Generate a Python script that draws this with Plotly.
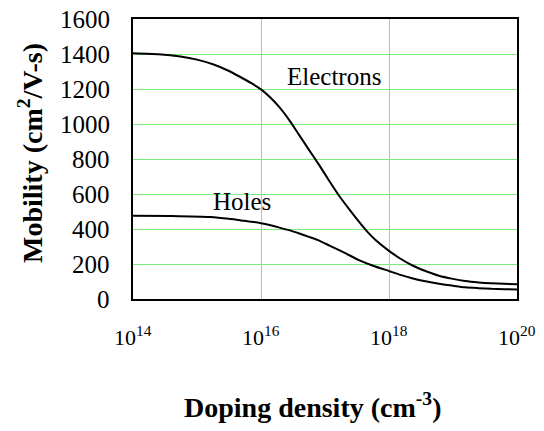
import plotly.graph_objects as go

# log10 of doping density (cm^-3)
elec_logN = [14.0, 14.4, 14.74, 15.0, 15.26, 15.5, 15.67, 15.85, 16.0, 16.15, 16.29, 16.45, 16.6, 16.75, 16.91, 17.07, 17.22, 17.38, 17.53, 17.66, 17.79, 18.0, 18.18, 18.36, 18.57, 18.78, 19.0, 19.19, 19.4, 19.6, 19.8, 20.0]
elec_mu = [1405, 1399, 1386, 1368, 1340, 1303, 1270, 1233, 1198, 1150, 1095, 1018, 935, 852, 765, 673, 590, 512, 442, 385, 337, 275, 230, 193, 160, 133, 115, 103, 95, 90, 87, 84]

hole_logN = [14.0, 14.6, 15.21, 15.5, 15.67, 15.85, 16.0, 16.15, 16.29, 16.45, 16.6, 16.75, 16.91, 17.07, 17.22, 17.38, 17.53, 17.75, 18.0, 18.18, 18.36, 18.57, 18.78, 19.0, 19.19, 19.4, 19.6, 19.8, 20.0]
hole_mu = [476, 474, 468, 458, 450, 442, 433, 421, 408, 392, 374, 355, 334, 305, 279, 250, 222, 190, 160, 138, 119, 101, 87, 76, 67, 62, 58, 56, 54]

x_tick_exps = [14, 16, 18, 20]
x_tickvals = [10.0 ** e for e in x_tick_exps]
x_ticktext = ["10<sup>%d</sup>" % e for e in x_tick_exps]
y_tickvals = [0, 200, 400, 600, 800, 1000, 1200, 1400, 1600]

FONT = "Liberation Serif"
GRID = "rgb(120,235,120)"

L, R, T, B = 133, 27, 19, 132
W, H = 544, 431
PW, PH = W - L - R, H - T - B

fig = go.Figure()
for xs, ys in [(elec_logN, elec_mu), (hole_logN, hole_mu)]:
    fig.add_trace(go.Scatter(
        x=[10.0 ** v for v in xs], y=ys, mode="lines",
        line=dict(color="black", width=2, shape="spline", smoothing=0.6),
        showlegend=False, hoverinfo="skip"))

fig.update_layout(
    width=W, height=H,
    margin=dict(l=L, r=R, t=T, b=B),
    paper_bgcolor="white", plot_bgcolor="white",
    font=dict(family=FONT, color="black", size=25),
)
fig.update_xaxes(type="log", range=[14, 20], tickmode="array", tickvals=x_tickvals,
                 showticklabels=False,
                 showgrid=True, gridcolor=GRID, gridwidth=1,
                 showline=True, linecolor="black", linewidth=2, mirror=True,
                 ticks="", zeroline=False)
fig.update_yaxes(range=[0, 1600], tickmode="array", tickvals=y_tickvals,
                 showticklabels=False,
                 showgrid=True, gridcolor=GRID, gridwidth=1,
                 showline=True, linecolor="black", linewidth=2, mirror=True,
                 ticks="", zeroline=False)

# tick labels, placed on the axes' own scales
for e, txt in zip(x_tick_exps, x_ticktext):
    fig.add_annotation(x=e, y=0, xref="x", yref="paper", text=txt, showarrow=False,
                       xanchor="center", yanchor="middle", yshift=-37,
                       font=dict(size=22, family=FONT, color="black"))
for v in y_tickvals:
    fig.add_annotation(x=0, y=v, xref="paper", yref="y", text=str(v), showarrow=False,
                       xanchor="right", yanchor="middle", xshift=-21,
                       font=dict(size=25, family=FONT, color="black"))

fig.add_annotation(x=17.14, y=1269, xref="x", yref="y", text="Electrons", showarrow=False,
                   font=dict(size=25, family=FONT, color="black"))
fig.add_annotation(x=15.71, y=556, xref="x", yref="y", text="Holes", showarrow=False,
                   font=dict(size=25, family=FONT, color="black"))

# axis titles
fig.add_annotation(x=(312 - L) / PW, y=-(405 - (T + PH)) / PH,
                   xref="paper", yref="paper", showarrow=False,
                   text="<b>Doping density (cm<sup>-3</sup>)</b>",
                   font=dict(size=28, family=FONT, color="black"), xanchor="center", yanchor="middle")
fig.add_annotation(x=-(L - 30) / PW, y=((T + PH) - 153) / PH,
                   xref="paper", yref="paper", showarrow=False, textangle=-90,
                   text="<b>Mobility (cm<sup>2</sup>/V-s)</b>",
                   font=dict(size=28, family=FONT, color="black"), xanchor="center", yanchor="middle")

fig.write_html("out.html")
